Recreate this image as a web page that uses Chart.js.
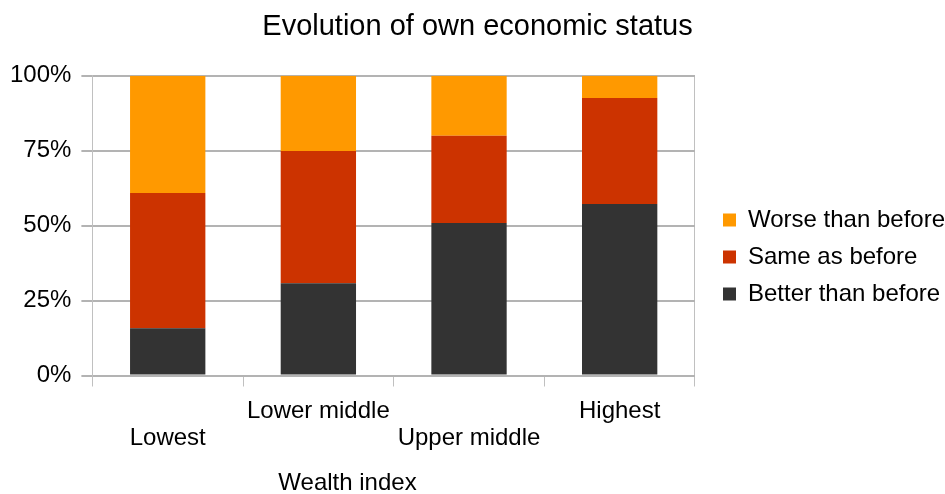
<!DOCTYPE html>
<html>
<head>
<meta charset="utf-8">
<title>Evolution of own economic status</title>
<script src="https://cdn.jsdelivr.net/npm/chart.js@4/dist/chart.umd.min.js"></script>
<style>
  html, body { margin: 0; padding: 0; background: #ffffff; }
  #wrap { position: relative; width: 945px; height: 494px; }
</style>
</head>
<body>
<div id="wrap"><canvas id="chart"></canvas></div>
<script>
// Wealth index groups (x axis)
const categories = ['Lowest', 'Lower middle', 'Upper middle', 'Highest'];

// Share of respondents per group, in percent
const betterThanBefore = [15.8, 30.8, 50.9, 57.2];
const sameAsBefore     = [45.1, 44.1, 29.1, 35.4];
const worseThanBefore  = [39.1, 25.1, 20.0, 7.4];

// Y axis ticks
const yTicks = [0, 25, 50, 75, 100];

const chartTitle = 'Evolution of own economic status';
const xAxisTitle = 'Wealth index';

const FONT = '"Liberation Sans", Arial, sans-serif';
const GRID = '#b3b3b3';
const AXIS = '#c0c0c0';

// Alternate the category labels on two rows so the long names do not collide
const tickLabels = categories.map((name, i) => (i % 2 === 0 ? ['', name] : [name]));

// Draws the x axis caption in the band reserved below the tick labels
const captionPlugin = {
  id: 'xCaption',
  afterDraw(chart) {
    const { ctx, chartArea } = chart;
    const xs = chart.scales.x;
    ctx.save();
    ctx.font = '24px ' + FONT;
    ctx.fillStyle = '#000000';
    ctx.textAlign = 'center';
    ctx.textBaseline = 'middle';
    ctx.fillText(xAxisTitle, chartArea.right / 2, xs.bottom - 11);
    ctx.restore();
  }
};

Chart.defaults.font.family = FONT;
Chart.defaults.color = '#000000';

new Chart(document.getElementById('chart'), {
  type: 'bar',
  data: {
    labels: tickLabels,
    datasets: [
      { label: 'Better than before', data: betterThanBefore, backgroundColor: '#333333' },
      { label: 'Same as before',     data: sameAsBefore,     backgroundColor: '#cc3300' },
      { label: 'Worse than before',  data: worseThanBefore,  backgroundColor: '#ff9900' }
    ]
  },
  options: {
    responsive: true,
    maintainAspectRatio: false,
    animation: false,
    devicePixelRatio: 1,
    datasets: { bar: { categoryPercentage: 1.0, barPercentage: 0.5, borderWidth: 0 } },
    layout: { padding: { left: 0, right: -10, top: 0, bottom: 0 } },
    plugins: {
      tooltip: { enabled: false },
      title: {
        display: true,
        text: chartTitle,
        font: { size: 29, weight: 'normal' },
        padding: { top: 10, bottom: 31 }
      },
      legend: {
        position: 'right',
        reverse: true,
        maxWidth: 400,
        title: { display: true, text: '', font: { size: 10, lineHeight: 1 }, padding: { top: 10, bottom: 0 } },
        labels: {
          boxWidth: 13,
          boxHeight: 13,
          padding: 13,
          font: { size: 24 }
        }
      }
    },
    scales: {
      x: {
        stacked: true,
        offset: true,
        grid: {
          offset: true,
          drawOnChartArea: true,
          lineWidth: 1,
          color: (c) => (c.type !== 'tick' || c.index === 0 ? AXIS : 'rgba(0,0,0,0)'),
          tickColor: AXIS,
          tickLength: 11
        },
        border: { display: false },
        ticks: {
          autoSkip: false,
          maxRotation: 0,
          minRotation: 0,
          padding: 11,
          font: { size: 24, lineHeight: 1.125 }
        },
        afterFit(scale) { scale.height += 31.5; }
      },
      y: {
        stacked: true,
        min: 0,
        max: 100,
        afterBuildTicks(scale) { scale.ticks = yTicks.map(v => ({ value: v })); },
        grid: { color: GRID, lineWidth: 2, tickLength: 11, tickColor: GRID },
        border: { display: true, color: AXIS, width: 1 },
        ticks: {
          padding: 10,
          font: { size: 24 },
          callback: (v) => v + '%'
        }
      },
      yRight: {
        type: 'linear',
        position: 'right',
        display: true,
        grid: { display: false },
        border: { display: false },
        ticks: { display: false },
        afterFit(scale) { scale.width = 15; }
      }
    }
  },
  plugins: [captionPlugin]
});
</script>
</body>
</html>
